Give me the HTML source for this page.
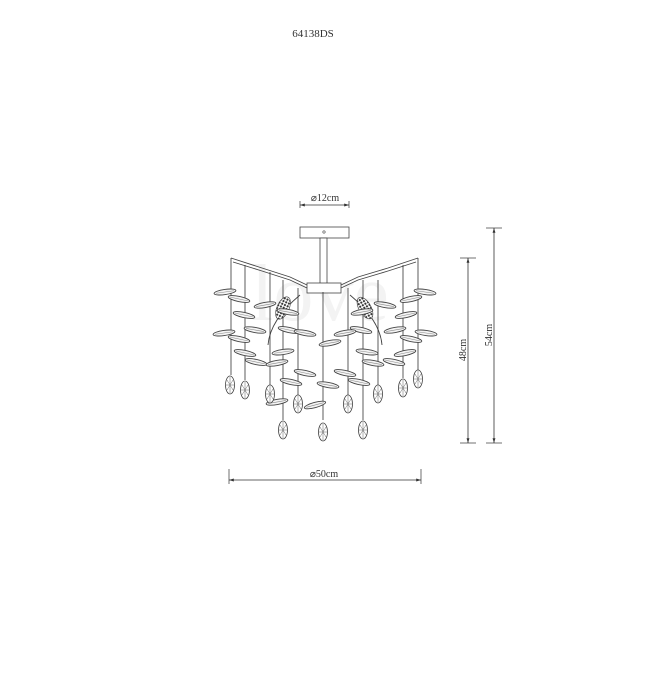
<!DOCTYPE html>
<html><head><meta charset="utf-8"><style>
html,body{margin:0;padding:0;background:#fff;width:650px;height:677px;overflow:hidden}
svg{display:block}
text{font-family:"Liberation Serif",serif;fill:#333}
</style></head><body>
<svg width="650" height="677" viewBox="0 0 650 677" xmlns="http://www.w3.org/2000/svg">
<defs>
<marker id="a" viewBox="0 0 10 10" refX="10" refY="5" markerWidth="6" markerHeight="6" orient="auto-start-reverse"><path d="M0,2 L10,5 L0,8 z" fill="#333"/></marker>
<g id="leaf"><ellipse cx="0" cy="0" rx="11" ry="2.6" fill="#f4f4f4" stroke="#444" stroke-width="0.9"/><line x1="-9" y1="0" x2="9" y2="0" stroke="#888" stroke-width="0.6"/></g>
<g id="pend"><ellipse cx="0" cy="0" rx="4.5" ry="9" fill="#fff" stroke="#444" stroke-width="0.8"/><path d="M-3,-5 L3,5 M3,-5 L-3,5 M-4,0 L4,0 M0,-8 L0,8" stroke="#666" stroke-width="0.5"/></g>
<pattern id="h" width="3" height="3" patternUnits="userSpaceOnUse"><rect width="3" height="3" fill="#fff"/><circle cx="1.5" cy="1.5" r="1.1" fill="#333"/></pattern>
</defs>
<text x="313" y="37" font-size="11" text-anchor="middle">64138DS</text>
<text x="320" y="320" font-size="80" font-family="Liberation Sans" text-anchor="middle" style="fill:#f3f3f3">love</text>
<line x1="300" y1="201" x2="300" y2="208" stroke="#333" stroke-width="0.7"/>
<line x1="349" y1="201" x2="349" y2="208" stroke="#333" stroke-width="0.7"/>
<line x1="300" y1="205" x2="349" y2="205" stroke="#333" stroke-width="0.8" marker-start="url(#a)" marker-end="url(#a)"/>
<text x="325" y="201" font-size="10" text-anchor="middle">⌀12cm</text>
<rect x="300" y="227" width="49" height="11" fill="#fff" stroke="#444" stroke-width="0.8"/>
<circle cx="324" cy="232" r="1.2" fill="none" stroke="#444" stroke-width="0.6"/>
<rect x="320" y="238" width="7" height="46" fill="#fff" stroke="#444" stroke-width="0.8"/>
<rect x="307" y="283" width="34" height="10" fill="#fff" stroke="#444" stroke-width="0.8"/>
<g stroke="#444" stroke-width="0.9" fill="none">
<path d="M307,285 L290,277 L262,268 L231,258"/><path d="M307,288 L290,280 L262,271 L233,262"/>
<path d="M341,285 L358,277 L388,268 L418,258"/><path d="M341,288 L358,280 L388,271 L416,262"/>
<path d="M300,295 Q270,320 268,345"/><path d="M350,295 Q380,320 382,345"/>
</g>
<g stroke="#333" stroke-width="0.8">
<line x1="231" y1="258" x2="231" y2="375"/><line x1="245" y1="265" x2="245" y2="380"/>
<line x1="270" y1="272" x2="270" y2="385"/><line x1="283" y1="280" x2="283" y2="420"/>
<line x1="298" y1="288" x2="298" y2="395"/><line x1="323" y1="292" x2="323" y2="420"/>
<line x1="348" y1="288" x2="348" y2="395"/><line x1="363" y1="280" x2="363" y2="420"/>
<line x1="378" y1="280" x2="378" y2="385"/><line x1="403" y1="265" x2="403" y2="378"/>
<line x1="418" y1="258" x2="418" y2="370"/>
</g>
<ellipse cx="283" cy="308" rx="6" ry="12" transform="rotate(25 283 308)" fill="url(#h)" stroke="#444" stroke-width="0.6"/>
<ellipse cx="365" cy="308" rx="6" ry="12" transform="rotate(-30 365 308)" fill="url(#h)" stroke="#444" stroke-width="0.6"/>
<use href="#leaf" transform="translate(225,292) rotate(-8)"/>
<use href="#leaf" transform="translate(239,299) rotate(12)"/>
<use href="#leaf" transform="translate(244,315) rotate(12)"/>
<use href="#leaf" transform="translate(224,333) rotate(-8)"/>
<use href="#leaf" transform="translate(239,339) rotate(12)"/>
<use href="#leaf" transform="translate(245,353) rotate(12)"/>
<use href="#leaf" transform="translate(256,362) rotate(12)"/>
<use href="#leaf" transform="translate(265,305) rotate(-10)"/>
<use href="#leaf" transform="translate(288,312) rotate(10)"/>
<use href="#leaf" transform="translate(289,330) rotate(12)"/>
<use href="#leaf" transform="translate(277,363) rotate(-10)"/>
<use href="#leaf" transform="translate(283,352) rotate(-8)"/>
<use href="#leaf" transform="translate(291,382) rotate(12)"/>
<use href="#leaf" transform="translate(305,333) rotate(10)"/>
<use href="#leaf" transform="translate(305,373) rotate(12)"/>
<use href="#leaf" transform="translate(330,343) rotate(-10)"/>
<use href="#leaf" transform="translate(328,385) rotate(10)"/>
<use href="#leaf" transform="translate(315,405) rotate(-15)"/>
<use href="#leaf" transform="translate(277,402) rotate(-10)"/>
<use href="#leaf" transform="translate(425,292) rotate(8)"/>
<use href="#leaf" transform="translate(411,299) rotate(-12)"/>
<use href="#leaf" transform="translate(406,315) rotate(-12)"/>
<use href="#leaf" transform="translate(426,333) rotate(8)"/>
<use href="#leaf" transform="translate(411,339) rotate(12)"/>
<use href="#leaf" transform="translate(405,353) rotate(-12)"/>
<use href="#leaf" transform="translate(394,362) rotate(12)"/>
<use href="#leaf" transform="translate(385,305) rotate(10)"/>
<use href="#leaf" transform="translate(362,312) rotate(-10)"/>
<use href="#leaf" transform="translate(361,330) rotate(12)"/>
<use href="#leaf" transform="translate(373,363) rotate(10)"/>
<use href="#leaf" transform="translate(367,352) rotate(8)"/>
<use href="#leaf" transform="translate(359,382) rotate(12)"/>
<use href="#leaf" transform="translate(345,333) rotate(-10)"/>
<use href="#leaf" transform="translate(345,373) rotate(12)"/>
<use href="#leaf" transform="translate(395,330) rotate(-10)"/>
<use href="#leaf" transform="translate(255,330) rotate(10)"/>
<use href="#pend" transform="translate(230,385)"/>
<use href="#pend" transform="translate(245,390)"/>
<use href="#pend" transform="translate(270,394)"/>
<use href="#pend" transform="translate(298,404)"/>
<use href="#pend" transform="translate(348,404)"/>
<use href="#pend" transform="translate(378,394)"/>
<use href="#pend" transform="translate(403,388)"/>
<use href="#pend" transform="translate(418,379)"/>
<use href="#pend" transform="translate(283,430)"/>
<use href="#pend" transform="translate(323,432)"/>
<use href="#pend" transform="translate(363,430)"/>
<line x1="460" y1="258" x2="476" y2="258" stroke="#333" stroke-width="0.7"/>
<line x1="460" y1="443" x2="476" y2="443" stroke="#333" stroke-width="0.7"/>
<line x1="468" y1="258" x2="468" y2="443" stroke="#333" stroke-width="0.8" marker-start="url(#a)" marker-end="url(#a)"/>
<text transform="translate(466,350) rotate(-90)" font-size="10" text-anchor="middle">48cm</text>
<line x1="486" y1="228" x2="502" y2="228" stroke="#333" stroke-width="0.7"/>
<line x1="486" y1="443" x2="502" y2="443" stroke="#333" stroke-width="0.7"/>
<line x1="494" y1="228" x2="494" y2="443" stroke="#333" stroke-width="0.8" marker-start="url(#a)" marker-end="url(#a)"/>
<text transform="translate(492,335) rotate(-90)" font-size="10" text-anchor="middle">54cm</text>
<line x1="229" y1="469" x2="229" y2="484" stroke="#333" stroke-width="0.7"/>
<line x1="421" y1="469" x2="421" y2="484" stroke="#333" stroke-width="0.7"/>
<line x1="229" y1="480" x2="421" y2="480" stroke="#333" stroke-width="0.8" marker-start="url(#a)" marker-end="url(#a)"/>
<text x="324" y="477" font-size="10" text-anchor="middle">⌀50cm</text>
</svg>
</body></html>
